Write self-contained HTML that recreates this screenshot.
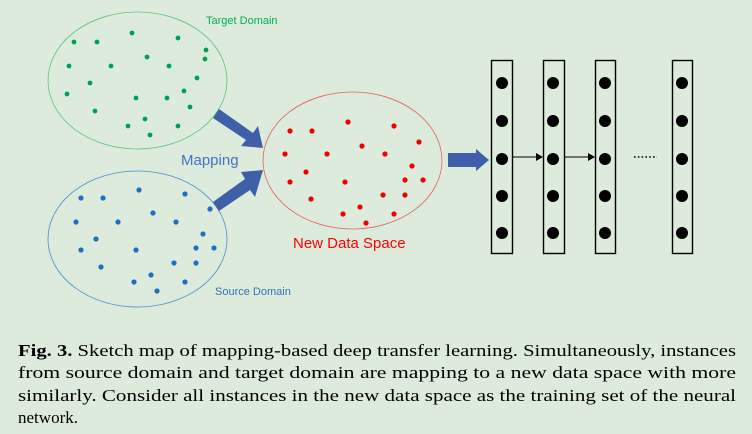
<!DOCTYPE html>
<html><head><meta charset="utf-8"><style>
html,body{margin:0;padding:0;background:#dcebdc;}
svg{display:block}
</style></head><body>
<svg width="752" height="434" viewBox="0 0 752 434" xmlns="http://www.w3.org/2000/svg">
<rect width="752" height="434" fill="#dcebdc"/>
<ellipse cx="137.5" cy="80.5" rx="89.5" ry="68.5" fill="none" stroke="#5cc57a" stroke-width="0.8"/>
<ellipse cx="137.5" cy="239" rx="89.5" ry="68" fill="none" stroke="#4a90c8" stroke-width="0.8"/>
<ellipse cx="352.5" cy="160.5" rx="89.5" ry="68.5" fill="none" stroke="#e66060" stroke-width="0.8"/>
<g fill="#00a050">
<circle cx="74" cy="42" r="2.4"/><circle cx="97" cy="42" r="2.4"/><circle cx="132" cy="33" r="2.4"/><circle cx="178" cy="38" r="2.4"/><circle cx="206" cy="50" r="2.4"/><circle cx="205" cy="59" r="2.4"/><circle cx="69" cy="66" r="2.4"/><circle cx="111" cy="66" r="2.4"/><circle cx="147" cy="57" r="2.4"/><circle cx="169" cy="66" r="2.4"/><circle cx="197" cy="78" r="2.4"/><circle cx="90" cy="83" r="2.4"/><circle cx="67" cy="94" r="2.4"/><circle cx="184" cy="91" r="2.4"/><circle cx="136" cy="98" r="2.4"/><circle cx="167" cy="98" r="2.4"/><circle cx="190" cy="107" r="2.4"/><circle cx="95" cy="111" r="2.4"/><circle cx="145" cy="119" r="2.4"/><circle cx="128" cy="126" r="2.4"/><circle cx="178" cy="126" r="2.4"/><circle cx="150" cy="135" r="2.4"/>
</g>
<g fill="#1f70c0">
<circle cx="139" cy="190" r="2.6"/><circle cx="185" cy="194" r="2.6"/><circle cx="81" cy="198" r="2.6"/><circle cx="103" cy="198" r="2.6"/><circle cx="210" cy="209" r="2.6"/><circle cx="153" cy="213" r="2.6"/><circle cx="76" cy="222" r="2.6"/><circle cx="118" cy="222" r="2.6"/><circle cx="176" cy="222" r="2.6"/><circle cx="203" cy="234" r="2.6"/><circle cx="96" cy="239" r="2.6"/><circle cx="81" cy="250" r="2.6"/><circle cx="136" cy="250" r="2.6"/><circle cx="196" cy="248" r="2.6"/><circle cx="214" cy="248" r="2.6"/><circle cx="101" cy="267" r="2.6"/><circle cx="174" cy="263" r="2.6"/><circle cx="196" cy="263" r="2.6"/><circle cx="151" cy="275" r="2.6"/><circle cx="134" cy="282" r="2.6"/><circle cx="185" cy="282" r="2.6"/><circle cx="157" cy="291" r="2.6"/>
</g>
<g fill="#f00000">
<circle cx="290" cy="131" r="2.6"/><circle cx="312" cy="131" r="2.6"/><circle cx="348" cy="122" r="2.6"/><circle cx="394" cy="126" r="2.6"/><circle cx="362" cy="146" r="2.6"/><circle cx="419" cy="142" r="2.6"/><circle cx="285" cy="154" r="2.6"/><circle cx="327" cy="154" r="2.6"/><circle cx="385" cy="154" r="2.6"/><circle cx="412" cy="166" r="2.6"/><circle cx="306" cy="172" r="2.6"/><circle cx="290" cy="182" r="2.6"/><circle cx="345" cy="182" r="2.6"/><circle cx="405" cy="180" r="2.6"/><circle cx="423" cy="180" r="2.6"/><circle cx="383" cy="195" r="2.6"/><circle cx="405" cy="195" r="2.6"/><circle cx="311" cy="199" r="2.6"/><circle cx="360" cy="207" r="2.6"/><circle cx="343" cy="214" r="2.6"/><circle cx="394" cy="214" r="2.6"/><circle cx="366" cy="223" r="2.6"/>
</g>
<!-- mapping arrows -->
<polygon points="213,118 219,109 253,133 258,126 263,148 241,146 246,140" fill="#3f5fa8"/>
<polygon points="213,202 219,211 250,190 255,197 263,170 241,172 245,179" fill="#3f5fa8"/>
<text x="181" y="165" font-family="Liberation Sans, sans-serif" font-size="15" fill="#4472c4">Mapping</text>
<text x="206" y="24" font-family="Liberation Sans, sans-serif" font-size="11" fill="#00b050">Target Domain</text>
<text x="215" y="295" font-family="Liberation Sans, sans-serif" font-size="11" fill="#2e75b6">Source Domain</text>
<text x="293" y="248" font-family="Liberation Sans, sans-serif" font-size="15" fill="#ff0000">New Data Space</text>
<!-- big arrow -->
<polygon points="448,153 476,153 476,149 489,160 476,171 476,167 448,167" fill="#3f5fa8"/>
<!-- columns -->
<g fill="none" stroke="#000" stroke-width="1.4">
<rect x="491.5" y="60.5" width="21" height="193"/>
<rect x="543.5" y="60.5" width="21" height="193"/>
<rect x="595.5" y="60.5" width="20" height="193"/>
<rect x="672.5" y="60.5" width="20" height="193"/>
<line x1="512" y1="157" x2="537" y2="157" stroke-width="1"/>
<line x1="564" y1="157" x2="589" y2="157" stroke-width="1"/>
</g>
<polygon points="536,153 543,157 536,161" fill="#000"/>
<polygon points="588,153 595,157 588,161" fill="#000"/>
<line x1="634" y1="157" x2="657" y2="157" stroke="#000" stroke-width="1.5" stroke-dasharray="1.6,2.2"/>
<g fill="#000">
<circle cx="502" cy="83" r="6"/><circle cx="502" cy="121" r="6"/><circle cx="502" cy="159" r="6"/><circle cx="502" cy="196" r="6"/><circle cx="502" cy="233" r="6"/>
<circle cx="553" cy="83" r="6"/><circle cx="553" cy="121" r="6"/><circle cx="553" cy="159" r="6"/><circle cx="553" cy="196" r="6"/><circle cx="553" cy="233" r="6"/>
<circle cx="605" cy="83" r="6"/><circle cx="605" cy="121" r="6"/><circle cx="605" cy="159" r="6"/><circle cx="605" cy="196" r="6"/><circle cx="605" cy="233" r="6"/>
<circle cx="682" cy="83" r="6"/><circle cx="682" cy="121" r="6"/><circle cx="682" cy="159" r="6"/><circle cx="682" cy="196" r="6"/><circle cx="682" cy="233" r="6"/>
</g>
<!-- caption -->
<g font-family="Liberation Serif, serif" font-size="17" fill="#000">
<text x="18" y="356" textLength="718" lengthAdjust="spacingAndGlyphs"><tspan font-weight="bold">Fig. 3.</tspan> Sketch map of mapping-based deep transfer learning. Simultaneously, instances</text>
<text x="18" y="378" textLength="718" lengthAdjust="spacingAndGlyphs">from source domain and target domain are mapping to a new data space with more</text>
<text x="18" y="401" textLength="718" lengthAdjust="spacingAndGlyphs">similarly. Consider all instances in the new data space as the training set of the neural</text>
<text x="18" y="423" textLength="60" lengthAdjust="spacingAndGlyphs">network.</text>
</g>
</svg>
</body></html>
